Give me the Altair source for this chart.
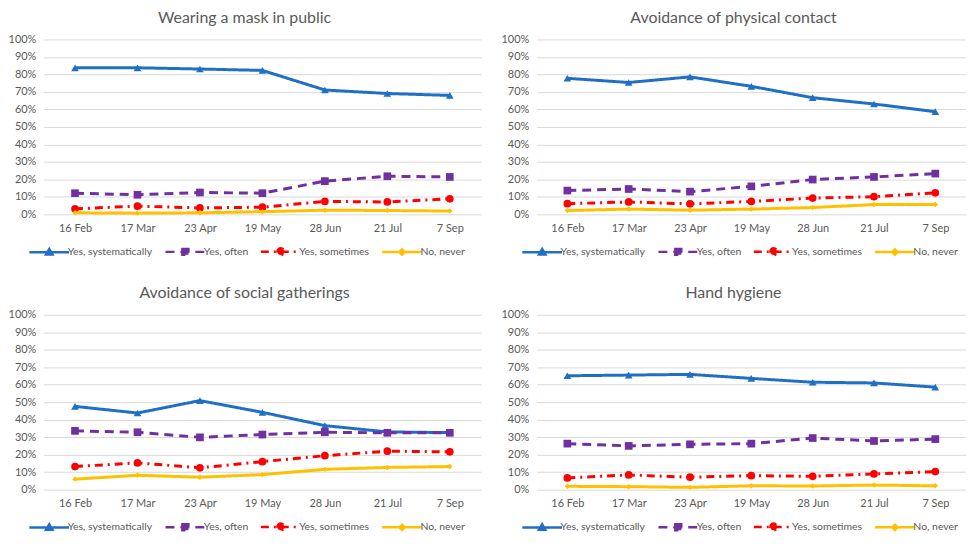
import altair as alt
import pandas as pd

dates = ["16 Feb", "17 Mar", "23 Apr", "19 May", "28 Jun", "21 Jul", "7 Sep"]
series = ["Yes, systematically", "Yes, often", "Yes, sometimes", "No, never"]

titles = ["Wearing a mask in public", "Avoidance of physical contact",
          "Avoidance of social gatherings", "Hand hygiene"]

mask_syst = [83.8, 83.8, 83.1, 82.3, 71.1, 69.1, 68.0]
mask_often = [12.1, 11.2, 12.5, 12.1, 19.0, 21.8, 21.4]
mask_some = [3.2, 4.7, 3.7, 4.1, 7.4, 7.1, 8.9]
mask_never = [0.9, 0.7, 0.9, 1.5, 2.4, 2.2, 1.9]

contact_syst = [77.8, 75.4, 78.6, 73.2, 66.7, 63.1, 58.7]
contact_often = [13.6, 14.5, 13.0, 16.0, 19.9, 21.4, 23.3]
contact_some = [6.1, 7.1, 6.0, 7.4, 9.3, 10.1, 12.3]
contact_never = [2.2, 3.0, 2.4, 3.0, 3.9, 5.6, 5.6]

gather_syst = [47.6, 43.8, 50.9, 44.2, 36.6, 33.0, 32.6]
gather_often = [33.6, 32.8, 29.9, 31.5, 32.8, 32.5, 32.5]
gather_some = [13.2, 15.3, 12.5, 16.0, 19.4, 22.0, 21.6]
gather_never = [6.0, 8.2, 7.1, 8.6, 11.6, 12.7, 13.2]

hyg_syst = [65.1, 65.5, 65.9, 63.6, 61.4, 61.0, 58.6]
hyg_often = [26.3, 25.0, 25.9, 26.3, 29.5, 27.8, 28.9]
hyg_some = [6.7, 8.4, 7.1, 8.0, 7.6, 9.0, 10.3]
hyg_never = [1.9, 1.7, 1.3, 2.2, 2.1, 2.6, 2.2]

panels = [
    [mask_syst, mask_often, mask_some, mask_never],
    [contact_syst, contact_often, contact_some, contact_never],
    [gather_syst, gather_often, gather_some, gather_never],
    [hyg_syst, hyg_often, hyg_some, hyg_never],
]

colors = ["#1F6FC5", "#7030A0", "#FF0000", "#FFC000"]
dashes = [[1, 0], [9, 6], [8, 5, 2, 5], [1, 0]]
shapes = ["triangle-up", "square", "circle", "diamond"]
sizes = [60, 60, 60, 30]
legend_paths = [
    "M-5,0H5M0,-0.8L0.8,0.6L-0.8,0.6Z",
    "M-5,0H5M-0.75,-0.75H0.75V0.75H-0.75Z",
    "M-5,0H5M-0.85,0A0.85,0.85,0,1,1,0.85,0A0.85,0.85,0,1,1,-0.85,0Z",
    "M-5,0H5M0,-0.65L0.65,0L0,0.65L-0.65,0Z",
]

FONT = "Lato"
GREY = "#595959"


def make_panel(title, vals, width):
    rows = []
    for s, arr in zip(series, vals):
        for d, v in zip(dates, arr):
            rows.append({"date": d, "series": s, "value": v})
    df = pd.DataFrame(rows)
    base = alt.Chart(df)
    x = alt.X("date:N", sort=dates, title=None,
              axis=alt.Axis(labelAngle=0, domain=False, ticks=False, tickSize=0,
                            labelPadding=8, labelFont=FONT, labelFontSize=11,
                            labelColor=GREY, grid=False))
    y = alt.Y("value:Q", title=None, scale=alt.Scale(domain=[0, 100], nice=False),
              axis=alt.Axis(values=list(range(0, 101, 10)), labelExpr="datum.value + '%'",
                            domain=False, ticks=False, tickSize=0, labelPadding=8,
                            labelFont=FONT, labelFontSize=11, labelColor=GREY,
                            gridColor="#D9D9D9", gridWidth=1))
    layers = []
    for i, s in enumerate(series):
        sub = base.transform_filter(alt.datum.series == s)
        layers.append(sub.mark_line(color=colors[i], strokeWidth=3,
                                    strokeDash=dashes[i]).encode(x=x, y=y))
        layers.append(sub.mark_point(color=colors[i], filled=True, opacity=1,
                                     shape=shapes[i], size=sizes[i]).encode(x=x, y=y))
    leg = alt.Legend(orient="bottom", offset=13, direction="horizontal",
                     title=None, symbolSize=64, symbolStrokeWidth=2.5,
                     labelOffset=13, columnPadding=7, labelFont=FONT,
                     labelFontSize=10.5, labelColor=GREY, padding=0)
    legend_layer = base.transform_filter("false").mark_point(
        filled=True, opacity=1, strokeWidth=2.5).encode(
        fill=alt.Fill("series:N", scale=alt.Scale(domain=series, range=colors), legend=leg),
        stroke=alt.Stroke("series:N", scale=alt.Scale(domain=series, range=colors), legend=leg),
        shape=alt.Shape("series:N", scale=alt.Scale(domain=series, range=legend_paths), legend=leg),
        strokeDash=alt.StrokeDash("series:N", scale=alt.Scale(domain=series, range=dashes), legend=leg),
    )
    layers.append(legend_layer)
    return alt.layer(*layers).properties(
        width=width, height=176,
        title=alt.Title(title, font=FONT, fontSize=16, fontWeight="normal", color=GREY,
                        frame="bounds", anchor="middle", offset=8),
    )


p1 = make_panel(titles[0], panels[0], 440)
p2 = make_panel(titles[1], panels[1], 432)
p3 = make_panel(titles[2], panels[2], 440)
p4 = make_panel(titles[3], panels[3], 432)

indep = dict(fill="independent", stroke="independent", shape="independent",
             strokeDash="independent")

row1 = alt.hconcat(p1, p2, spacing=20).resolve_scale(**indep).resolve_legend(**indep)
row2 = alt.hconcat(p3, p4, spacing=20).resolve_scale(**indep).resolve_legend(**indep)

chart = alt.vconcat(row1, row2, spacing=25).resolve_scale(**indep).resolve_legend(**indep).properties(
    padding={"left": 0, "top": 0, "right": 0, "bottom": 0},
    background="white",
).configure_view(stroke=None)

chart.save("out.html", embed_options={"renderer": "svg", "actions": False})
